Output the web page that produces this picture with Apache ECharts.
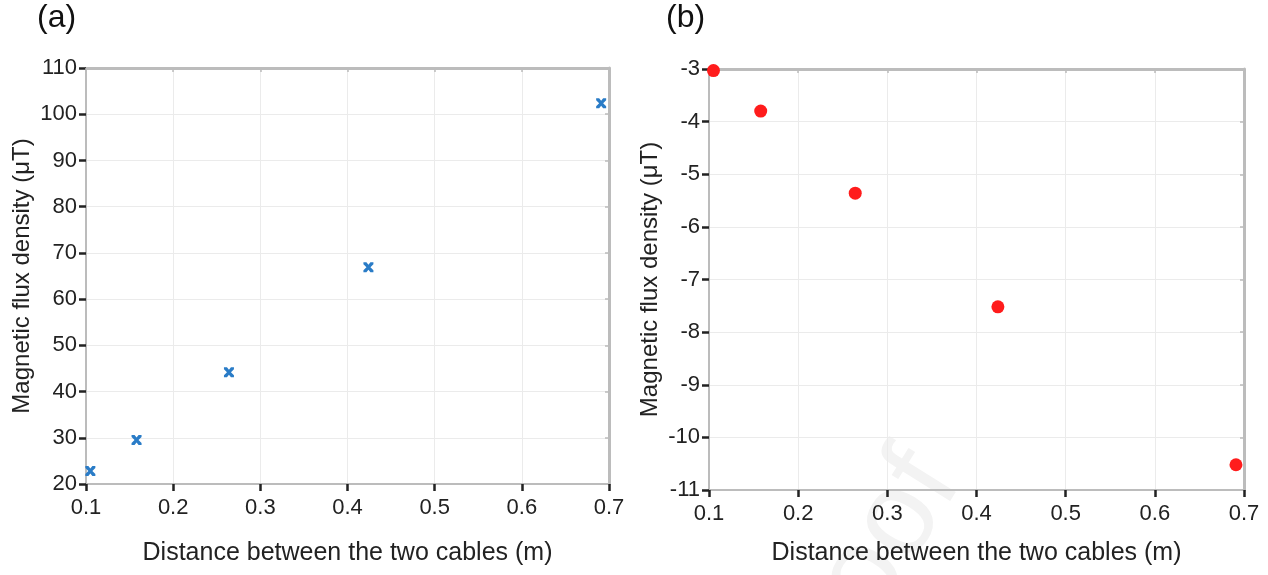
<!DOCTYPE html>
<html>
<head>
<meta charset="utf-8">
<script src="https://cdn.jsdelivr.net/npm/echarts@6/dist/echarts.min.js"></script>
<style>
html,body{margin:0;padding:0;background:#fff;}
#chart{width:1268px;height:575px;}
</style>
</head>
<body>
<div id="chart"></div>
<script>
// Data
const distances = [0.105, 0.158, 0.264, 0.424, 0.691];
const fluxA = [22.8, 29.5, 44.2, 66.9, 102.4];
const fluxB = [-3.03, -3.80, -5.36, -7.52, -10.52];
const xTicks = [0.1, 0.2, 0.3, 0.4, 0.5, 0.6, 0.7];
const yTicksA = [20, 30, 40, 50, 60, 70, 80, 90, 100, 110];
const yTicksB = [-11, -10, -9, -8, -7, -6, -5, -4, -3];
const xName = 'Distance between the two cables (m)';
const yName = 'Magnetic flux density (μT)';
const panelLabels = ['(a)', '(b)'];

const FONT = 'Liberation Sans, Arial, sans-serif';
const chart = echarts.init(document.getElementById('chart'));

const grids = [
  {left: 86, top: 68, width: 523, height: 416},
  {left: 709, top: 69, width: 535, height: 421}
];

function mainX(gi, gap) {
  return {
    type: 'value', gridIndex: gi, position: 'bottom',
    min: xTicks[0], max: xTicks[xTicks.length - 1], interval: 0.1,
    name: xName, nameLocation: 'middle', nameGap: gap,
    nameTextStyle: {fontFamily: FONT, fontSize: 25, color: '#222'},
    axisLine: {show: true, lineStyle: {color: '#bcbcbc', width: 2}},
    axisTick: {show: true, inside: false, length: 7, lineStyle: {color: '#222', width: 2.5}},
    axisLabel: {fontFamily: FONT, fontSize: 22, color: '#222', margin: 13,
      formatter: v => (Math.round(v * 10) / 10).toFixed(1)},
    splitLine: {show: true, lineStyle: {color: '#ebebeb', width: 1}}
  };
}
function topX(gi) {
  return {
    type: 'value', gridIndex: gi, position: 'top',
    min: xTicks[0], max: xTicks[xTicks.length - 1], interval: 0.1,
    axisLine: {show: true, lineStyle: {color: '#bcbcbc', width: 3}},
    axisTick: {show: true, inside: true, length: 4, lineStyle: {color: '#bcbcbc', width: 1.5}},
    axisLabel: {show: false}, splitLine: {show: false}
  };
}
function mainY(gi, ticks, gap) {
  return {
    type: 'value', gridIndex: gi, position: 'left',
    min: ticks[0], max: ticks[ticks.length - 1], interval: ticks[1] - ticks[0],
    name: yName, nameLocation: 'middle', nameGap: gap,
    nameTextStyle: {fontFamily: FONT, fontSize: 24, color: '#222'},
    axisLine: {show: true, lineStyle: {color: '#bcbcbc', width: 2}},
    axisTick: {show: true, inside: false, length: 7, lineStyle: {color: '#222', width: 2.5}},
    axisLabel: {fontFamily: FONT, fontSize: 22, color: '#222', margin: 9},
    splitLine: {show: true, lineStyle: {color: '#ebebeb', width: 1}}
  };
}
function rightY(gi, ticks) {
  return {
    type: 'value', gridIndex: gi, position: 'right',
    min: ticks[0], max: ticks[ticks.length - 1], interval: ticks[1] - ticks[0],
    axisLine: {show: true, lineStyle: {color: '#bcbcbc', width: 3}},
    axisTick: {show: true, inside: true, length: 4, lineStyle: {color: '#bcbcbc', width: 1.5}},
    axisLabel: {show: false}, splitLine: {show: false}
  };
}

const xMark = 'path://M0,0 L3,0 L5,2.5 L7,0 L10,0 L10,2 L7,5 L10,8 L10,10 L7,10 L5,7.5 L3,10 L0,10 L0,8 L3,5 L0,2 Z';

chart.setOption({
  animation: false,
  backgroundColor: '#fff',
  grid: grids,
  xAxis: [mainX(0, 57), topX(0), mainX(1, 51), topX(1)],
  yAxis: [mainY(0, yTicksA, 52), rightY(0, yTicksA), mainY(1, yTicksB, 47), rightY(1, yTicksB)],
  series: [
    {type: 'scatter', xAxisIndex: 0, yAxisIndex: 0,
      data: distances.map((d, i) => [d, fluxA[i]]),
      symbol: xMark, symbolSize: 10,
      itemStyle: {color: '#2a7cc7', opacity: 1}, z: 5},
    {type: 'scatter', xAxisIndex: 2, yAxisIndex: 2,
      data: distances.map((d, i) => [d, fluxB[i]]),
      symbol: 'circle', symbolSize: 13,
      itemStyle: {color: '#ff1c1c', opacity: 1}, z: 5}
  ],
  graphic: [
    {type: 'text', left: 37, top: 2, z: 10,
      style: {text: panelLabels[0], font: '32px ' + FONT, fill: '#111'}},
    {type: 'text', left: 666, top: 2, z: 10,
      style: {text: panelLabels[1], font: '32px ' + FONT, fill: '#111'}},
    {type: 'text', x: 890, y: 535, rotation: Math.PI * 58 / 180, z: -10, silent: true,
      style: {text: 'oof', font: '120px ' + FONT, fill: '#f3f3f3',
        align: 'center', verticalAlign: 'middle'}}
  ]
});
</script>
</body>
</html>
